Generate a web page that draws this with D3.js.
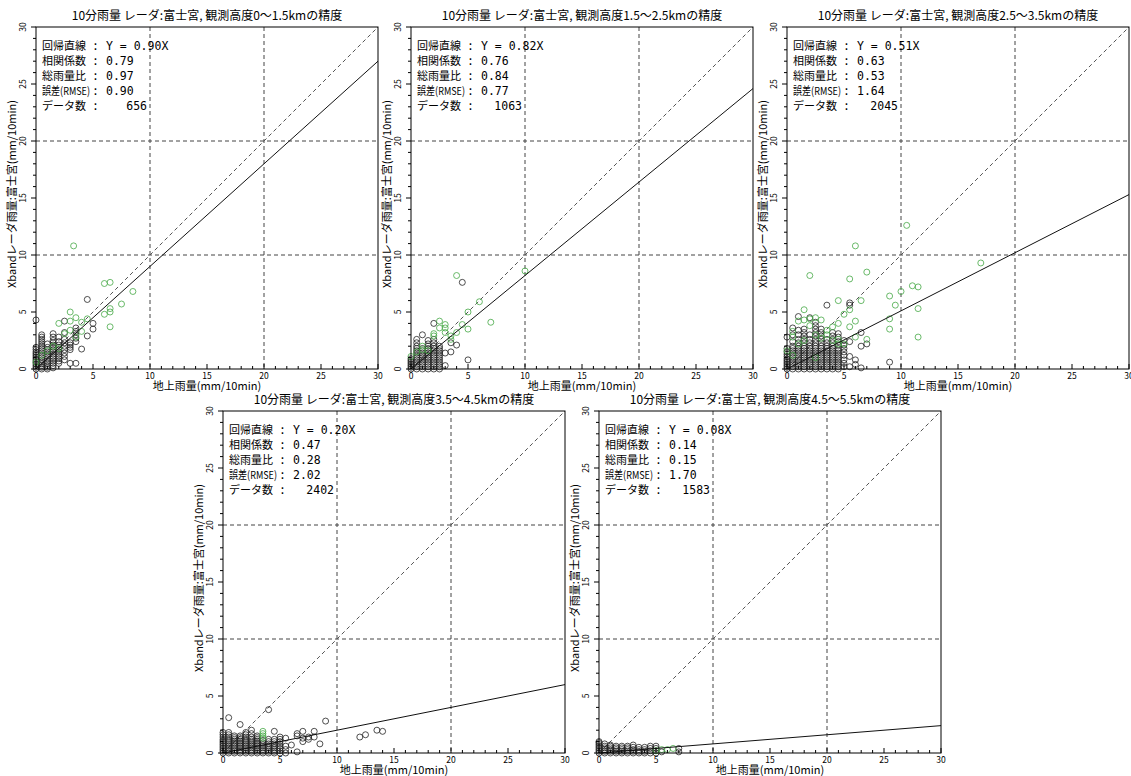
<!DOCTYPE html>
<html>
<head>
<meta charset="utf-8">
<script src="https://cdn.jsdelivr.net/npm/d3@7"></script>
<style>
  body { margin: 0; background: #fff; }
  svg { display: block; }
  text { font-family: "Noto Sans CJK JP", sans-serif; fill: #000; }
  .mono { font-family: "DejaVu Sans Mono", monospace; }
</style>
</head>
<body>
<div id="chart"></div>
<script>
// panel stats
var heights = ["0～1.5", "1.5～2.5", "2.5～3.5", "3.5～4.5", "4.5～5.5"];
var slopes = [0.90, 0.82, 0.51, 0.20, 0.08];
var correlations = [0.79, 0.76, 0.63, 0.47, 0.14];
var totalRatios = [0.97, 0.84, 0.53, 0.28, 0.15];
var rmses = [0.90, 0.77, 1.64, 2.02, 1.70];
var dataCounts = [656, 1063, 2045, 2402, 1583];

var majorTicks = [0, 5, 10, 15, 20, 25, 30];
var minorTicks = [1, 2, 3, 4, 6, 7, 8, 9, 11, 12, 13, 14, 16, 17, 18, 19, 21, 22, 23, 24, 26, 27, 28, 29];
var gridValues = [10, 20];

// black points: [x, [y, y, ...]] columns
var black1 = [
    [0, [0, 0.15, 0.3, 0.45, 0.6, 0.75, 0.9, 1.05, 1.2, 1.35, 1.5, 1.7, 1.9, 4.3]],
    [0.5, [0, 0.15, 0.3, 0.45, 0.6, 0.8, 1.0, 1.2, 1.4, 1.6, 1.8, 2.0, 2.2, 2.4, 2.6, 2.8, 3.0]],
    [1, [0, 0.15, 0.3, 0.5, 0.7, 0.9, 1.1, 1.3, 1.5, 1.7, 1.9, 2.2]],
    [1.5, [0.1, 0.3, 0.5, 0.7, 0.9, 1.1, 1.3, 1.5, 1.7, 1.9, 2.1, 2.3, 2.5, 2.8, 3.1]],
    [2, [0.5, 0.7, 0.9, 1.1, 1.3, 1.5, 1.7, 1.9, 2.1, 2.4, 2.8]],
    [2.5, [0.8, 1.1, 1.4, 1.7, 2.0, 2.3, 2.6, 3.2, 4.2]],
    [3, [0.5, 1.7, 1.9, 2.1, 2.3]],
    [3.5, [0.5, 2.4, 2.7, 3.0, 3.3, 3.6]],
    [4, [1.75]],
    [4.5, [2.9, 6.1]],
    [5, [3.5, 4.0]]
];
var green1 = [[3.3, 10.8], [6, 7.5], [6.5, 7.6], [8.5, 6.8], [7.5, 5.7], [6, 4.8], [6.5, 5.3], [6.5, 5.0],
    [6.5, 3.7], [3, 5.0], [2, 4.0], [3, 4.2], [3.5, 4.5], [4, 4.1], [4.5, 4.4], [3, 3.4], [4, 3.3],
    [2.5, 3.1], [3.5, 2.8], [1.5, 2.0], [1, 1.6], [0, 0.6], [0.5, 1.2], [2, 1.8]];

var black2 = [
    [0, [0, 0.15, 0.3, 0.45, 0.6, 0.75, 0.9]],
    [0.5, [0, 0.2, 0.4, 0.6, 0.8, 1.0, 1.2, 1.4, 1.6, 1.8, 2.0, 2.3, 2.6]],
    [1, [0, 0.2, 0.4, 0.6, 0.8, 1.0, 1.2, 1.4, 1.6, 1.8, 3.0]],
    [1.5, [0, 0.2, 0.4, 0.6, 0.8, 1.0, 1.2, 1.4, 1.6, 1.8, 2.0, 2.2, 2.5]],
    [2, [0, 0.2, 0.4, 0.6, 0.8, 1.0, 1.2, 1.4, 1.6, 1.8, 2.0, 2.3, 2.6, 4.0]],
    [2.5, [0, 0.2, 0.4, 0.6, 0.8, 1.0, 1.2, 1.4, 1.6, 1.8, 2.0]],
    [3, [0.3, 1.4]],
    [3.5, [1.5, 2.3]],
    [4, [2.1]],
    [4.5, [7.6]],
    [5, [0.8]]
];
var green2 = [[4, 8.2], [10, 8.6], [2.5, 4.2], [3, 3.9], [3, 3.6], [2.5, 3.6], [2, 3.1], [2, 2.9], [3, 3.2],
    [4.5, 3.9], [5, 5.0], [6, 5.9], [7, 4.1], [5, 3.5], [3.5, 2.6], [4, 3.2], [1, 2.0], [1, 1.7], [0, 1.1],
    [1.5, 1.6], [0.5, 1.5], [3.5, 2.9]];

var black3 = [
    [0, [0, 0.15, 0.3, 0.45, 0.6, 0.75, 0.9, 1.1, 1.3, 1.5, 1.8, 2.8]],
    [0.5, [0, 0.2, 0.4, 0.6, 0.8, 1.0, 1.2, 1.4, 1.6, 1.8, 2.0, 2.4, 3.0, 3.6]],
    [1, [0, 0.2, 0.4, 0.6, 0.8, 1.0, 1.2, 1.4, 1.6, 1.8, 2.0, 2.3, 2.6, 3.0, 3.4, 4.6]],
    [1.5, [0, 0.2, 0.4, 0.6, 0.8, 1.0, 1.2, 1.4, 1.6, 1.8, 2.0, 2.3, 2.6, 2.9, 3.2, 3.5]],
    [2, [0, 0.2, 0.4, 0.6, 0.8, 1.0, 1.2, 1.4, 1.6, 1.8, 2.0, 2.3, 2.6, 3.0, 4.5]],
    [2.5, [0, 0.2, 0.4, 0.6, 0.8, 1.0, 1.2, 1.4, 1.6, 1.8, 2.0, 2.3, 2.6, 2.9, 3.2, 3.5, 3.8, 4.1]],
    [3, [0, 0.2, 0.4, 0.6, 0.8, 1.0, 1.2, 1.4, 1.6, 1.8, 2.0, 2.3, 2.6, 2.9, 3.2, 3.5]],
    [3.5, [0, 0.2, 0.4, 0.6, 0.8, 1.0, 1.2, 1.4, 1.6, 1.8, 2.0, 2.3, 2.6, 5.6]],
    [4, [0, 0.2, 0.4, 0.6, 0.8, 1.0, 1.2, 1.4, 1.6, 1.8, 2.0, 2.3, 2.6, 2.9, 3.2]],
    [4.5, [0, 0.2, 0.4, 0.6, 0.8, 1.0, 1.2, 1.4, 1.6, 1.8, 2.1, 2.4, 2.8, 3.1]],
    [5, [0.2, 0.5, 0.8, 1.2, 1.5, 1.8, 2.1, 2.5]],
    [5.5, [0.2, 1.1, 2.4, 5.6, 5.8]],
    [6, [0.4, 0.8]],
    [6.5, [0.1, 2.0, 3.2]],
    [7, [2.2]],
    [9, [0.6]]
];
var green3 = [[10.5, 12.6], [6, 10.8], [17, 9.3], [2, 8.2], [5.5, 7.9], [7, 8.5], [4.5, 6.0], [6.5, 6.0],
    [10, 6.8], [11, 7.3], [11.5, 7.2], [9, 6.4], [9.5, 5.6], [11.5, 5.3], [9, 4.4], [9, 3.5], [11.5, 2.8],
    [5, 4.8], [5.5, 5.2], [5.5, 3.7], [6, 4.2], [6, 2.8], [7, 2.6], [1.5, 5.2], [1, 4.2], [1.5, 4.3],
    [2, 4.4], [2.5, 4.5], [3, 4.3], [4.5, 4.0], [0.5, 3.3], [0.5, 2.8], [0, 1.6], [1, 2.2],
    [2.5, 3.0], [3.5, 3.0], [4, 2.5], [4.5, 2.2], [2.5, 1.0], [3.5, 3.4], [4, 3.7], [4.5, 2.6],
    [3, 2.7], [5, 2.2], [0.5, 1.2], [1.5, 2.5], [2, 3.8]];

var black4 = [
    [0, [0, 0.15, 0.3, 0.45, 0.6, 0.75, 0.9, 1.05, 1.2, 1.4, 1.6, 1.8]],
    [0.5, [0, 0.15, 0.3, 0.45, 0.6, 0.75, 0.9, 1.05, 1.2, 1.4, 1.6, 1.8, 3.1]],
    [1, [0, 0.15, 0.3, 0.45, 0.6, 0.75, 0.9, 1.05, 1.2, 1.35, 1.5]],
    [1.5, [0, 0.15, 0.3, 0.45, 0.6, 0.75, 0.9, 1.05, 1.2, 1.35, 1.5, 2.5]],
    [2, [0, 0.15, 0.3, 0.45, 0.6, 0.75, 0.9, 1.05, 1.2, 1.4, 1.6, 1.8]],
    [2.5, [0, 0.15, 0.3, 0.45, 0.6, 0.75, 0.9, 1.05, 1.2, 1.4, 1.7, 2.0]],
    [3, [0, 0.15, 0.3, 0.45, 0.6, 0.75, 0.9, 1.05, 1.2, 1.35, 1.5]],
    [3.5, [0, 0.15, 0.3, 0.45, 0.6, 0.75, 0.9, 1.1]],
    [4, [0, 0.15, 0.3, 0.45, 0.6, 0.8, 1.0, 1.2, 3.8]],
    [4.5, [0, 0.15, 0.3, 0.45, 0.6, 0.8, 1.0, 1.2, 1.9]],
    [5, [0, 0.2, 0.4, 0.6, 0.8, 1.0, 1.2, 1.4]],
    [5.5, [0, 0.3, 0.6, 1.3]],
    [6, [0.7]],
    [6.5, [0.1, 1.5, 1.7]],
    [7, [1.0, 1.3, 1.9]],
    [7.5, [1.2, 1.4]],
    [8, [1.4, 1.9]],
    [8.5, [0.8]],
    [9, [2.8]],
    [12, [1.4]],
    [12.5, [1.6]],
    [13.5, [2.0]],
    [14, [1.9]]
];
var green4 = [[3.5, 1.3], [3.5, 1.5], [3.5, 1.7], [3.5, 1.9]];

var black5 = [
    [0, [0, 0.15, 0.3, 0.45, 0.6, 0.75, 0.9, 1.0]],
    [0.5, [0, 0.15, 0.3, 0.45, 0.6, 0.8]],
    [1, [0, 0.15, 0.3, 0.45, 0.6, 0.7]],
    [1.5, [0, 0.15, 0.3, 0.45, 0.6]],
    [2, [0, 0.15, 0.3, 0.45, 0.6]],
    [2.5, [0, 0.15, 0.3, 0.45, 0.6]],
    [3, [0, 0.15, 0.3, 0.5, 0.7]],
    [3.5, [0, 0.15, 0.3, 0.5]],
    [4, [0, 0.15, 0.3, 0.5]],
    [4.5, [0, 0.2, 0.4, 0.6]],
    [5, [0, 0.2, 0.4, 0.6]],
    [5.5, [0.1]],
    [7, [0.1, 0.4]]
];
var green5 = [[5, 0.2], [5.5, 0.3], [6, 0.3], [6.5, 0.4]];

var blackSets = [black1, black2, black3, black4, black5];
var greenSets = [green1, green2, green3, green4, green5];
var statLabels = ["回帰直線", "相関係数", "総雨量比", "誤差(RMSE)", "データ数"];

// layout
var width = 1131, height = 776;
var plotSize = 342;
var panelPos = [[36, 27], [411, 27], [787, 27], [223, 411], [599, 411]];

var svg = d3.select("#chart").append("svg")
    .attr("width", width)
    .attr("height", height);

function drawPanel(i) {
    var left = panelPos[i][0], top = panelPos[i][1];
    var g = svg.append("g").attr("transform", "translate(" + left + "," + top + ")");

    var x = d3.scaleLinear().domain([0, 30]).range([0, plotSize]);
    var y = d3.scaleLinear().domain([0, 30]).range([plotSize, 0]);

    // dashed grid
    g.selectAll(".gx").data(gridValues).enter().append("line")
        .attr("x1", function(d) { return x(d); })
        .attr("x2", function(d) { return x(d); })
        .attr("y1", 0).attr("y2", plotSize)
        .attr("stroke", "#444").attr("stroke-dasharray", "4,3");
    g.selectAll(".gy").data(gridValues).enter().append("line")
        .attr("y1", function(d) { return y(d); })
        .attr("y2", function(d) { return y(d); })
        .attr("x1", 0).attr("x2", plotSize)
        .attr("stroke", "#444").attr("stroke-dasharray", "4,3");

    // 1:1 line
    g.append("line")
        .attr("x1", x(0)).attr("y1", y(0))
        .attr("x2", x(30)).attr("y2", y(30))
        .attr("stroke", "#555").attr("stroke-dasharray", "4,3");

    // points
    var blackPts = [];
    blackSets[i].forEach(function(col) {
        col[1].forEach(function(v) { blackPts.push([col[0], v]); });
    });
    g.selectAll(".pb").data(blackPts).enter().append("circle")
        .attr("cx", function(d) { return x(d[0]); })
        .attr("cy", function(d) { return y(d[1]); })
        .attr("r", 3)
        .attr("fill", "none")
        .attr("stroke", "#222")
        .attr("stroke-width", 0.8);
    g.selectAll(".pg").data(greenSets[i]).enter().append("circle")
        .attr("cx", function(d) { return x(d[0]); })
        .attr("cy", function(d) { return y(d[1]); })
        .attr("r", 3)
        .attr("fill", "none")
        .attr("stroke", "#45a845")
        .attr("stroke-width", 0.8);

    // regression line
    g.append("line")
        .attr("x1", x(0)).attr("y1", y(0))
        .attr("x2", x(30)).attr("y2", y(slopes[i] * 30))
        .attr("stroke", "#111").attr("stroke-width", 1);

    // frame
    g.append("rect")
        .attr("x", 0).attr("y", 0)
        .attr("width", plotSize).attr("height", plotSize)
        .attr("fill", "none").attr("stroke", "#000");

    // x ticks (inside), y ticks (outside)
    g.selectAll(".xmaj").data(majorTicks).enter().append("line")
        .attr("x1", function(d) { return x(d); }).attr("x2", function(d) { return x(d); })
        .attr("y1", plotSize).attr("y2", plotSize - 5).attr("stroke", "#000");
    g.selectAll(".xmin").data(minorTicks).enter().append("line")
        .attr("x1", function(d) { return x(d); }).attr("x2", function(d) { return x(d); })
        .attr("y1", plotSize).attr("y2", plotSize - 3).attr("stroke", "#000");
    g.selectAll(".ymaj").data(majorTicks).enter().append("line")
        .attr("y1", function(d) { return y(d); }).attr("y2", function(d) { return y(d); })
        .attr("x1", 0).attr("x2", -5).attr("stroke", "#000");
    g.selectAll(".ymin").data(minorTicks).enter().append("line")
        .attr("y1", function(d) { return y(d); }).attr("y2", function(d) { return y(d); })
        .attr("x1", 0).attr("x2", -3).attr("stroke", "#000");

    // tick labels
    g.selectAll(".xl").data(majorTicks).enter().append("text")
        .attr("x", function(d) { return x(d); })
        .attr("y", plotSize + 10)
        .attr("text-anchor", "middle")
        .style("font-size", "8.5px")
        .text(function(d) { return d; });
    g.selectAll(".yl").data(majorTicks).enter().append("text")
        .attr("transform", function(d) { return "translate(-10," + y(d) + ") rotate(-90)"; })
        .attr("text-anchor", "middle")
        .style("font-size", "8.5px")
        .text(function(d) { return d; });

    // axis titles
    g.append("text")
        .attr("x", plotSize / 2).attr("y", plotSize + 21)
        .attr("text-anchor", "middle")
        .style("font-size", "11px")
        .text("地上雨量(mm/10min)");
    g.append("text")
        .attr("transform", "translate(-20," + (plotSize / 2 - 4) + ") rotate(-90)")
        .attr("text-anchor", "middle")
        .style("font-size", "11px")
        .text("Xbandレーダ雨量:富士宮(mm/10min)");

    // title
    g.append("text")
        .attr("x", plotSize / 2).attr("y", -7)
        .attr("text-anchor", "middle")
        .style("font-size", "12px")
        .text("10分雨量 レーダ:富士宮, 観測高度" + heights[i] + "kmの精度");

    // stats box
    var values = [
        "Y = " + slopes[i].toFixed(2) + "X",
        correlations[i].toFixed(2),
        totalRatios[i].toFixed(2),
        rmses[i].toFixed(2)
    ];
    statLabels.forEach(function(lab, k) {
        var ty = 23 + k * 15;
        var t = g.append("text")
            .attr("x", 6).attr("y", ty)
            .style("font-size", "11px")
            .text(lab);
        if (k === 3) {
            t.attr("textLength", 48).attr("lengthAdjust", "spacingAndGlyphs");
        }
        g.append("text").attr("class", "mono")
            .attr("x", 56).attr("y", ty)
            .style("font-size", "11.5px")
            .text(":");
        if (k < 4) {
            g.append("text").attr("class", "mono")
                .attr("x", 70).attr("y", ty)
                .style("font-size", "11.5px")
                .text(values[k]);
        } else {
            g.append("text").attr("class", "mono")
                .attr("x", 111).attr("y", ty)
                .attr("text-anchor", "end")
                .style("font-size", "11.5px")
                .text(dataCounts[i]);
        }
    });
}

for (var i = 0; i < 5; i++) {
    drawPanel(i);
}
</script>
</body>
</html>
